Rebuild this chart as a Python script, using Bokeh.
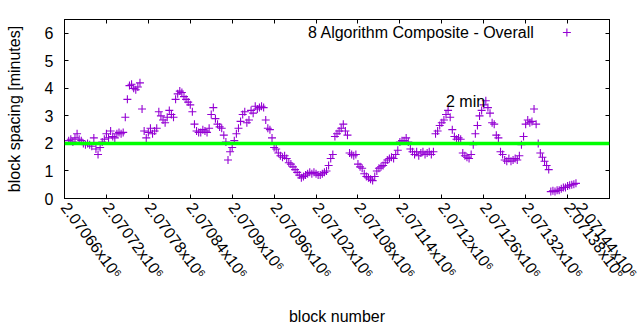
import math
from bokeh.plotting import figure
from bokeh.models import Range1d, FixedTicker, LinearAxis, Span, Label
from bokeh.embed import file_html
from bokeh.resources import INLINE

# ---------------- data ----------------
FIRST_BLOCK = 2070666
BLOCK_STEP = 3
spacing_minutes = [
    2.10, 2.15, 2.05, 2.20, 2.35, 2.15, 2.10, 2.00, 1.95, 2.00,
    1.95, 1.90, 2.20, 1.80, 1.60, 1.85, 2.05, 2.15, 2.35, 2.20,
    2.45, 2.25, 2.20, 2.35, 2.40, 2.35, 2.40, 2.95, 3.60, 4.10,
    4.15, 4.00, 3.95, 4.05, 4.20, 3.25, 2.45, 2.20, 2.40, 2.55,
    2.35, 2.45, 2.55, 3.15, 3.00, 2.85, 2.75, 2.95, 3.20, 3.05,
    2.95, 3.60, 3.80, 3.90, 3.85, 3.70, 3.60, 3.50, 3.40, 3.15,
    2.70, 2.45, 2.40, 2.40, 2.50, 2.45, 2.40, 2.55, 3.05, 3.30,
    2.90, 2.70, 2.60, 2.55, 2.30, 2.05, 1.40, 1.70, 1.85, 2.10,
    2.35, 2.55, 2.80, 3.05, 3.15, 2.75, 2.85, 3.20, 3.10, 3.35,
    3.25, 3.30, 3.35, 3.30, 2.85, 2.55, 2.50, 2.20, 1.85, 1.80,
    1.65, 1.55, 1.50, 1.55, 1.45, 1.30, 1.25, 1.15, 1.05, 0.95,
    0.85, 0.75, 0.80, 0.85, 0.90, 0.95, 0.90, 0.95, 0.90, 0.85,
    0.85, 0.90, 0.95, 1.00, 1.20, 1.45, 1.60, 2.25, 2.35, 2.45,
    2.55, 2.70, 2.45, 2.30, 1.65, 1.60, 1.55, 1.60, 1.25, 1.15,
    1.10, 0.90, 0.80, 0.75, 0.70, 0.65, 0.80, 1.00, 1.10, 1.15,
    1.20, 1.30, 1.40, 1.45, 1.50, 1.45, 1.60, 1.75, 2.05, 2.10,
    2.10, 2.20, 2.05, 1.80, 1.70, 1.60, 1.70, 1.55, 1.65, 1.70,
    1.60, 1.65, 1.70, 1.60, 1.70, 2.35, 2.45, 2.65, 2.75, 2.85,
    3.05, 3.20, 2.95, 2.50, 2.25, 2.15, 2.20, 2.15, 1.65, 1.55,
    1.50, 1.45, 1.60, 1.95, 2.35, 2.65, 3.00, 3.20, 3.40, 3.55,
    3.30, 3.10, 2.75, 2.70, 2.30, 2.20, 1.70, 1.60, 1.40, 1.35,
    1.45, 1.35, 1.40, 1.45, 1.40, 1.55, 1.95, 2.25, 2.70, 2.85,
    2.75, 2.80, 3.25, 2.70, 2.00, 1.65, 1.50, 1.35, 1.20, 1.05,
    0.25, 0.28, 0.25, 0.30, 0.30, 0.35, 0.40, 0.40, 0.45, 0.48,
    0.50, 0.52, 0.55,
]
blocks = [FIRST_BLOCK + BLOCK_STEP * i for i in range(len(spacing_minutes))]

x_ticks = [2070660, 2070720, 2070780, 2070840, 2070900, 2070960, 2071020,
           2071080, 2071140, 2071200, 2071260, 2071320, 2071380, 2071440]
x_tick_labels = ["2.07066x10⁶", "2.07072x10⁶", "2.07078x10⁶", "2.07084x10⁶",
                 "2.0709x10⁶", "2.07096x10⁶", "2.07102x10⁶", "2.07108x10⁶",
                 "2.07114x10⁶", "2.0712x10⁶", "2.07126x10⁶", "2.07132x10⁶",
                 "2.07138x10⁶", "2.07144x10⁶"]
y_ticks = [0, 1, 2, 3, 4, 5, 6]
x_limits = (2070660, 2071440)
y_limits = (0, 6.5)
target_minutes = 2
series_label = "8 Algorithm Composite - Overall"
note_text = "2 min"
note_pos = (2071206, 3.52)
# legend placement (data coordinates, top right corner of the plot)
legend_text_pos = (2071333, 6.03)
legend_key_pos = (2071379, 6.03)

FONT = "Liberation Sans"
FS = "16px"
PURPLE = "#9400d3"
GREEN = "#00ff00"

# ---------------- figure ----------------
p = figure(width=640, height=330, output_backend="svg", toolbar_location=None,
           x_range=Range1d(*x_limits), y_range=Range1d(*y_limits),
           min_border_left=64, min_border_right=31, min_border_top=19,
           min_border_bottom=132, background_fill_color="white",
           border_fill_color="white", outline_line_color="black")
p.xgrid.visible = False
p.ygrid.visible = False

MARK = dict(marker="cross", size=8, line_color=PURPLE, line_width=1.1)
p.scatter(blocks, spacing_minutes, **MARK)

p.add_layout(Span(location=target_minutes, dimension="width",
                  line_color=GREEN, line_width=3.5))

p.add_layout(Label(x=note_pos[0], y=note_pos[1], text=note_text,
                   text_font=FONT, text_font_size=FS, text_color="black",
                   text_baseline="middle", text_align="left"))

# legend: text on the left, sample marker on the right (gnuplot style)
p.add_layout(Label(x=legend_text_pos[0], y=legend_text_pos[1],
                   text=series_label, text_font=FONT, text_font_size=FS,
                   text_color="black", text_baseline="middle",
                   text_align="right"))
p.scatter([legend_key_pos[0]], [legend_key_pos[1]], **MARK)


def style_axis(ax):
    ax.major_tick_in = 4
    ax.major_tick_out = 0
    ax.minor_tick_line_color = None
    ax.axis_line_color = "black"
    ax.major_tick_line_color = "black"
    ax.major_label_text_font = FONT
    ax.major_label_text_font_size = FS
    ax.major_label_text_color = "black"
    ax.axis_label_text_font = FONT
    ax.axis_label_text_font_size = FS
    ax.axis_label_text_font_style = "normal"
    ax.axis_label_text_color = "black"


xa = p.xaxis[0]
style_axis(xa)
xa.ticker = FixedTicker(ticks=x_ticks)
xa.major_label_overrides = dict(zip(x_ticks, x_tick_labels))
xa.major_label_orientation = -0.93
xa.major_label_standoff = 6
xa.axis_label = "block number"
xa.axis_label_standoff = 18

ya = p.yaxis[0]
style_axis(ya)
ya.ticker = FixedTicker(ticks=y_ticks)
ya.major_label_standoff = 11
ya.axis_label = "block spacing [minutes]"
ya.axis_label_standoff = 19

# mirrored tick marks on the right and top borders (no labels)
for side, ticks in (("right", y_ticks), ("above", x_ticks)):
    ax = LinearAxis(ticker=FixedTicker(ticks=ticks))
    style_axis(ax)
    ax.major_label_text_font_size = "0px"
    ax.major_label_text_color = None
    ax.major_label_standoff = 0
    p.add_layout(ax, side)

open("out.html", "w").write(file_html(p, INLINE))
